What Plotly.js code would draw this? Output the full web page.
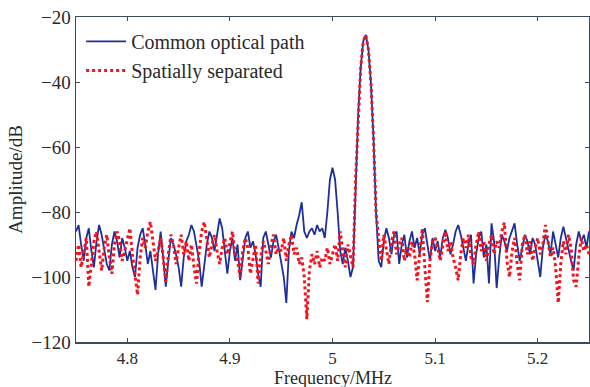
<!DOCTYPE html>
<html>
<head>
<meta charset="utf-8">
<script src="https://cdn.plot.ly/plotly-3.0.1.min.js"></script>
<style>html,body{margin:0;padding:0;background:#fff;}#chart{width:590px;height:387px;}</style>
</head>
<body>
<div id="chart"></div>
<script>
// Frequency grid (MHz), step 0.0025
const freq = [
4.7500,4.7525,4.7550,4.7575,4.7600,4.7625,4.7650,4.7675,4.7700,4.7725,
4.7750,4.7775,4.7800,4.7825,4.7850,4.7875,4.7900,4.7925,4.7950,4.7975,
4.8000,4.8025,4.8050,4.8075,4.8100,4.8125,4.8150,4.8175,4.8200,4.8225,
4.8250,4.8275,4.8300,4.8325,4.8350,4.8375,4.8400,4.8425,4.8450,4.8475,
4.8500,4.8525,4.8550,4.8575,4.8600,4.8625,4.8650,4.8675,4.8700,4.8725,
4.8750,4.8775,4.8800,4.8825,4.8850,4.8875,4.8900,4.8925,4.8950,4.8975,
4.9000,4.9025,4.9050,4.9075,4.9100,4.9125,4.9150,4.9175,4.9200,4.9225,
4.9250,4.9275,4.9300,4.9325,4.9350,4.9375,4.9400,4.9425,4.9450,4.9475,
4.9500,4.9525,4.9550,4.9575,4.9600,4.9625,4.9650,4.9675,4.9700,4.9725,
4.9750,4.9775,4.9800,4.9825,4.9850,4.9875,4.9900,4.9925,4.9950,4.9975,
5.0000,5.0025,5.0050,5.0075,5.0100,5.0125,5.0150,5.0175,5.0200,5.0225,
5.0250,5.0275,5.0300,5.0325,5.0350,5.0375,5.0400,5.0425,5.0450,5.0475,
5.0500,5.0525,5.0550,5.0575,5.0600,5.0625,5.0650,5.0675,5.0700,5.0725,
5.0750,5.0775,5.0800,5.0825,5.0850,5.0875,5.0900,5.0925,5.0950,5.0975,
5.1000,5.1025,5.1050,5.1075,5.1100,5.1125,5.1150,5.1175,5.1200,5.1225,
5.1250,5.1275,5.1300,5.1325,5.1350,5.1375,5.1400,5.1425,5.1450,5.1475,
5.1500,5.1525,5.1550,5.1575,5.1600,5.1625,5.1650,5.1675,5.1700,5.1725,
5.1750,5.1775,5.1800,5.1825,5.1850,5.1875,5.1900,5.1925,5.1950,5.1975,
5.2000,5.2025,5.2050,5.2075,5.2100,5.2125,5.2150,5.2175,5.2200,5.2225,
5.2250,5.2275,5.2300,5.2325,5.2350,5.2375,5.2400,5.2425,5.2450,5.2475,
5.2500];

// Common optical path (dB)
const commonPath = [
-86,-84,-90,-95,-88,-85,-92,-97,-89,-84,
-87,-91,-96,-98,-90,-86,-89,-94,-88,-91,
-95,-92,-97,-100,-91,-87,-85,-90,-96,-92,
-98,-104,-93,-86,-94,-103,-95,-88,-90,-93,
-97,-103,-94,-89,-87,-84,-86,-91,-95,-103,
-96,-90,-86,-88,-92,-87,-82,-85,-93,-99,
-92,-88,-95,-90,-101,-94,-88,-86,-91,-89,
-93,-99,-103,-88,-86,-90,-94,-89,-87,-91,
-96,-100,-108,-92,-86,-88,-84,-81,-77,-86,
-88,-86,-85,-87,-84,-86,-85,-88,-80,-70,
-66.4,-70,-80,-92,-96,-91,-95,-100,-97,-70,
-50,-35.5,-27.4,-25.5,-30,-40.5,-57.5,-80.5,-95,-97,
-89,-85,-88,-93,-87,-86,-96,-90,-87,-94,
-89,-86,-91,-88,-93,-87,-85,-90,-95,-88,
-92,-89,-94,-88,-85.5,-88,-93,-90,-86,-84,
-87,-91,-95,-90,-87,-102,-93,-88,-86,-94,
-90,-102,-83.5,-89,-103.4,-94,-87,-89,-92,-88,
-86,-83.5,-90,-95,-91,-87,-89,-93,-88,-90,
-95,-100,-91,-87,-89,-93,-86,-90,-94,-88,
-84.5,-88,-92,-95,-98,-90,-86,-89,-87,-91,
-86];

// Spatially separated (dB)
const spatiallySeparated = [
-95,-90,-97,-92,-88,-103,-96,-89,-86,-92,
-98,-91,-87,-94,-99,-90,-86,-89,-95,-92,
-88,-85,-93,-99,-105.5,-94,-88,-91,-86,-83,
-89,-95,-92,-88,-94,-101.5,-93,-87,-90,-96,
-91,-87,-93,-89,-95,-90,-97,-102,-92,-86,
-83,-89,-94,-90,-87,-92,-96,-91,-88,-93,
-89,-86,-93,-95,-100,-92,-88,-91,-99,-94,
-90,-102,-94,-89,-92,-96,-90,-87,-93,-91,
-92,-88,-95,-90,-87,-93,-91,-96,-94,-100,
-113,-98,-93,-96,-92,-97,-94,-95,-91,-96,
-93,-90,-95,-86,-92,-97,-90,-94,-97,-70,
-50,-35.5,-27.4,-25.5,-30,-40.5,-57.5,-80.5,-88,-95,
-87,-92,-96,-89,-86,-93,-90,-88,-95,-91,
-94,-89,-93,-101,-92,-85,-97,-107.7,-95,-89,
-88,-91,-95,-90,-86,-92,-89,-94,-97,-101,
-93,-88,-91,-87,-94,-96,-90,-86,-92,-89,
-95,-90,-87,-93,-89,-91,-86,-83.3,-95,-100,
-92,-88,-96,-101,-90,-87,-93,-89,-95,-91,
-88,-93,-90,-84,-89,-94,-91,-97,-108,-96,
-89,-93,-87,-91,-101,-103,-94,-88,-92,-90,
-93];

const seriesNames = ['Common optical path', 'Spatially separated'];
const xTicks = [4.8, 4.9, 5.0, 5.1, 5.2];
const xTickText = ['4.8', '4.9', '5', '5.1', '5.2'];
const yTicks = [-120, -100, -80, -60, -40, -20];
const xTitle = 'Frequency/MHz';
const yTitle = 'Amplitude/dB';

const font = 'Liberation Serif, Times New Roman, serif';
const axisColor = '#3d4a5c';
const textColor = '#2a2a2a';

const traces = [
  {
    x: freq, y: commonPath, name: seriesNames[0], type: 'scatter', mode: 'lines',
    line: {color: '#1f2f9a', width: 1.8}
  },
  {
    x: freq, y: spatiallySeparated, name: seriesNames[1], type: 'scatter', mode: 'lines',
    line: {color: '#f0141e', width: 3, dash: 'dot'}
  }
];

const layout = {
  width: 590, height: 387,
  margin: {l: 76, r: 1, t: 17, b: 45},
  paper_bgcolor: '#ffffff', plot_bgcolor: '#ffffff',
  font: {family: font, size: 18, color: textColor},
  showlegend: true,
  legend: {
    x: 0.01, y: 0.985, xanchor: 'left', yanchor: 'top',
    bgcolor: 'rgba(0,0,0,0)', borderwidth: 0,
    font: {family: font, size: 20, color: textColor},
    itemwidth: 40,
    tracegroupgap: 0
  },
  xaxis: {
    range: [4.75, 5.25],
    tickvals: xTicks, ticktext: xTickText,
    ticks: 'inside', ticklen: 4, tickcolor: axisColor,
    showline: true, linecolor: axisColor, linewidth: 1.5, mirror: 'ticks',
    showgrid: false, zeroline: false,
    tickfont: {family: font, size: 17, color: textColor}
  },
  yaxis: {
    range: [-120, -20],
    tickvals: yTicks,
    ticks: 'inside', ticklen: 4, tickcolor: axisColor,
    showline: true, linecolor: axisColor, linewidth: 1.5, mirror: 'ticks',
    showgrid: false, zeroline: false,
    tickfont: {family: font, size: 19, color: textColor},
    title: {text: yTitle, font: {family: font, size: 19, color: textColor}, standoff: 4}
  },
  annotations: [{
    text: xTitle, xref: 'paper', yref: 'paper', x: 0.5, y: 0,
    xanchor: 'center', yanchor: 'top', yshift: -25, showarrow: false,
    borderpad: 0, font: {family: font, size: 18, color: textColor}
  }]
};

Plotly.newPlot('chart', traces, layout, {displayModeBar: false, staticPlot: true});
</script>
</body>
</html>
